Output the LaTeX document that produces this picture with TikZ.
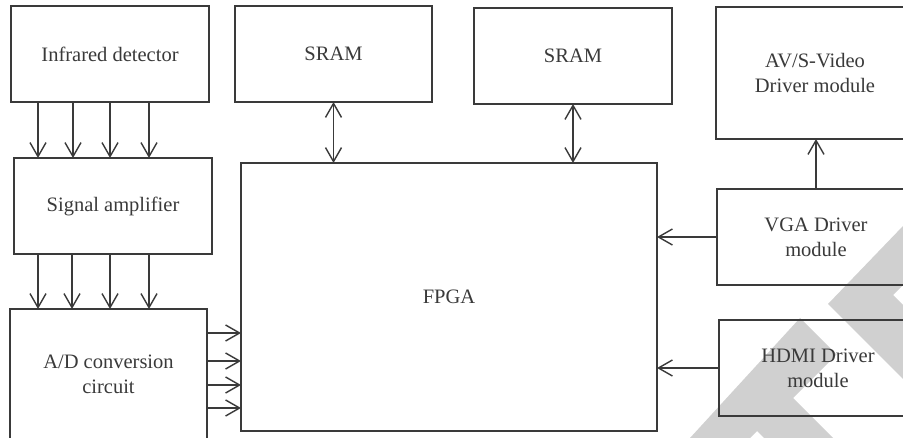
\documentclass[tikz,border=0pt]{standalone}
\usepackage{fontspec}
\setmainfont{Liberation Serif}
\usetikzlibrary{arrows.meta}
\definecolor{ink}{HTML}{3A3A3A}
\definecolor{wmgray}{HTML}{D0D0D0}
\begin{document}
\begin{tikzpicture}[x=1pt,y=-1pt,
  box/.style={draw=ink, line width=1.4pt, minimum width=198pt, minimum height=96pt,
    inner sep=0pt, outer sep=0pt, align=center, text=ink,
    font=\fontsize{20.5}{25}\selectfont},
  barb/.tip={Straight Barb[length=14pt,width=16pt]},
  arr/.style={draw=ink, line width=1.4pt, -barb},
  darr/.style={draw=ink, line width=1.4pt, barb-barb}]
\useasboundingbox (0,0) rectangle (903,438);
\clip (0,0) rectangle (903,438);
\fill[white] (0,0) rectangle (903,438);

% light grey background chevrons, lower right
\fill[wmgray] (903,226) -- (828,304) -- (903,379) -- (903,305) -- (893,295) -- (903,285) -- cycle;
\fill[wmgray] (690,438) -- (800,318) -- (836.5,354.5) -- (793,398) -- (833,438)
  -- (764,438) -- (757,431) -- (750,438) -- cycle;

% blocks
\node[box] (ir)    at (110,54)    {Infrared detector};
\node[box] (sa)    at (113,206)   {Signal amplifier};
\node[box, minimum width=197pt, minimum height=131pt] (ad) at (108.5,374.5) {A/D conversion\\circuit};
\node[box, minimum width=416pt, minimum height=268pt] (fpga) at (449,297) {FPGA};
\node[box, minimum width=197pt] (sram1) at (333.5,54) {SRAM};
\node[box] (sram2) at (573,56)    {SRAM};
\node[box, minimum height=132pt] (av) at (815,73) {AV/S-Video\\Driver module};
\node[box] (vga)   at (816,237)   {VGA Driver\\module};
\node[box] (hdmi)  at (818,368)   {HDMI Driver\\module};

% detector -> amplifier, four channels
\foreach \dx in {27,62,99,138}
  \draw[arr] ([xshift=\dx pt]ir.south west) -- ([xshift=\dx pt]ir.south west |- sa.north);
% amplifier -> A/D, four channels
\foreach \dx in {24,58,96,135}
  \draw[arr] ([xshift=\dx pt]sa.south west) -- ([xshift=\dx pt]sa.south west |- ad.north);
% A/D -> FPGA, four channels
\foreach \dy in {24,52,76,99}
  \draw[arr] ([yshift=-\dy pt]ad.north east) -- ([yshift=-\dy pt]ad.north east -| fpga.west);

% memories
\draw[darr] (sram1.south) -- (sram1.south |- fpga.north);
\draw[darr] (sram2.south) -- (sram2.south |- fpga.north);

% video outputs
\draw[arr] (vga.north) -- (vga.north |- av.south);
\draw[arr] (vga.west) -- (vga.west -| fpga.east);
\draw[arr] (hdmi.west) -- (hdmi.west -| fpga.east);
\end{tikzpicture}
\end{document}
